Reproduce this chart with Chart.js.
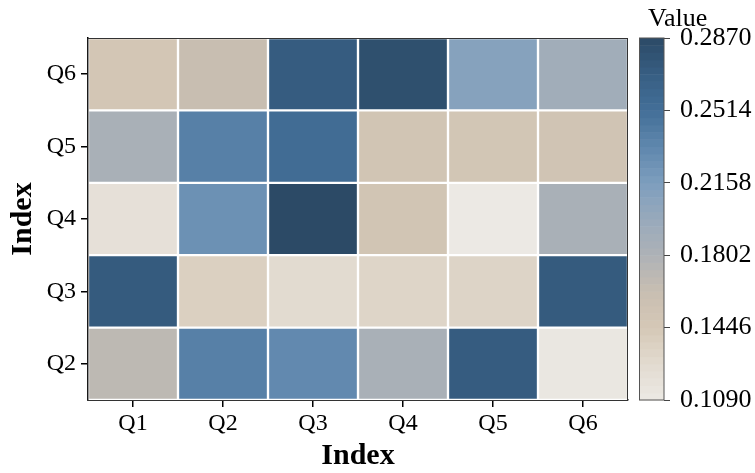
<!DOCTYPE html>
<html>
<head>
<meta charset="utf-8">
<script src="https://cdn.jsdelivr.net/npm/chart.js@4"></script>
<style>
html,body{margin:0;padding:0;background:#fff;}
#wrap{width:755px;height:473px;}
</style>
</head>
<body>
<div id="wrap"><canvas id="c" width="755" height="473"></canvas></div>
<script>
const xLabels = ['Q1','Q2','Q3','Q4','Q5','Q6'];
const yLabels = ['Q2','Q3','Q4','Q5','Q6'];
const rowQ2 = [0.170, 0.239, 0.232, 0.184, 0.271, 0.112];
const rowQ3 = [0.272, 0.137, 0.127, 0.132, 0.133, 0.272];
const rowQ4 = [0.120, 0.226, 0.287, 0.150, 0.109, 0.184];
const rowQ5 = [0.184, 0.239, 0.255, 0.150, 0.149, 0.151];
const rowQ6 = [0.148, 0.162, 0.271, 0.282, 0.210, 0.191];
const rowValues = [rowQ2, rowQ3, rowQ4, rowQ5, rowQ6];
const cbMin = 0.1090;
const cbMax = 0.2870;
const cbTicks = [0.1090, 0.1446, 0.1802, 0.2158, 0.2514, 0.2870];

const cmapStops = [
  [0.0, '#ece9e4'],
  [0.1, '#e2dbd0'],
  [0.2, '#d5c8b6'],
  [0.3, '#c8beb1'],
  [0.4, '#aeb2b6'],
  [0.5, '#98a9bb'],
  [0.6, '#7d9ebe'],
  [0.7, '#5f87ad'],
  [0.8, '#436f98'],
  [0.9, '#375e83'],
  [1.0, '#2c4a66']
];
function hex2rgb(h){return [parseInt(h.substr(1,2),16),parseInt(h.substr(3,2),16),parseInt(h.substr(5,2),16)];}
function cmap(v){
  let t = (v - cbMin) / (cbMax - cbMin);
  t = Math.max(0, Math.min(1, t));
  for (let i = 0; i < cmapStops.length - 1; i++) {
    const [t0, c0] = cmapStops[i], [t1, c1] = cmapStops[i+1];
    if (t <= t1) {
      const f = (t - t0) / (t1 - t0);
      const a = hex2rgb(c0), b = hex2rgb(c1);
      return 'rgb(' + a.map((x, k) => Math.round(x + (b[k] - x) * f)).join(',') + ')';
    }
  }
  return cmapStops[cmapStops.length-1][1];
}

const FONT = "'Liberation Serif', 'Times New Roman', serif";

const datasets = yLabels.map((lab, r) => ({
  label: lab,
  data: xLabels.map(() => 1),
  backgroundColor: rowValues[r].map(v => cmap(v)),
  borderColor: '#ffffff',
  borderWidth: 1.5,
  borderSkipped: false,
  categoryPercentage: 1.0,
  barPercentage: 1.0,
  stack: 's'
}));

const colorbarPlugin = {
  id: 'colorbar',
  afterDraw(chart) {
    const ctx = chart.ctx;
    const sp = chart.scales.spacer, cb = chart.scales.cb;
    const x1 = sp.right, x0 = x1 - 25;
    const n = 50;
    ctx.save();
    for (let i = 0; i < n; i++) {
      const va = cbMin + (cbMax - cbMin) * i / n;
      const vb = cbMin + (cbMax - cbMin) * (i + 1) / n;
      const ya = cb.getPixelForValue(va), yb = cb.getPixelForValue(vb);
      ctx.fillStyle = cmap((va + vb) / 2);
      ctx.fillRect(x0, yb, x1 - x0, ya - yb + 0.5);
    }
    const yt = cb.getPixelForValue(cbMax), yb = cb.getPixelForValue(cbMin);
    ctx.strokeStyle = '#555';
    ctx.lineWidth = 1;
    ctx.strokeRect(x0 + 0.5, yt, x1 - x0 - 0.5, yb - yt);
    ctx.fillStyle = '#000';
    ctx.font = '26px ' + FONT;
    ctx.textAlign = 'left';
    ctx.textBaseline = 'alphabetic';
    ctx.fillText('Value', x0 + 9, yt - 12);
    // plot frame
    const a = chart.chartArea;
    ctx.strokeStyle = '#333';
    ctx.lineWidth = 1;
    ctx.strokeRect(a.left, a.top + 0.5, a.right - a.left - 0.5, a.bottom - a.top);
    ctx.restore();
  }
};

new Chart(document.getElementById('c'), {
  type: 'bar',
  data: { labels: xLabels, datasets },
  options: {
    responsive: false,
    animation: false,
    layout: { padding: { top: 38, right: 0, bottom: 0, left: 0 } },
    plugins: { legend: { display: false }, tooltip: { enabled: false } },
    scales: {
      x: {
        type: 'category',
        stacked: true,
        offset: true,
        grid: { display: true, drawOnChartArea: false, drawTicks: true, tickLength: 7, color: '#000', lineWidth: 1.5, offset: false },
        border: { display: true, color: '#000', width: 1.5 },
        ticks: { color: '#000', font: { family: FONT, size: 24 }, padding: 2, maxRotation: 0 },
        title: { display: true, text: 'Index', color: '#000', font: { family: FONT, size: 30, weight: 'bold', lineHeight: 1.1 }, padding: { top: 0, bottom: 0 } },
        afterFit(s) { s.height = 73; }
      },
      y: {
        type: 'linear',
        stacked: true,
        min: 0,
        max: yLabels.length,
        grid: { display: true, drawOnChartArea: false, drawTicks: true, tickLength: 7, color: '#000', lineWidth: 1.5 },
        border: { display: true, color: '#000', width: 1.5 },
        afterBuildTicks(s) { s.ticks = yLabels.map((_, i) => ({ value: i + 0.5 })); },
        ticks: { color: '#000', font: { family: FONT, size: 24 }, padding: 5, callback: v => yLabels[Math.floor(v)] },
        title: { display: true, text: 'Index', color: '#000', font: { family: FONT, size: 30, weight: 'bold', lineHeight: 1.1 }, padding: { top: 7, bottom: 0 } },
        afterFit(s) { s.width = 88; }
      },
      spacer: {
        type: 'linear',
        position: 'right',
        weight: 0,
        display: true,
        grid: { display: false },
        border: { display: false },
        ticks: { display: false },
        afterFit(s) { s.width = 36; }
      },
      cb: {
        type: 'linear',
        position: 'right',
        weight: 1,
        min: cbMin,
        max: cbMax,
        grid: { display: true, drawOnChartArea: false, drawTicks: true, tickLength: 6, color: '#444', lineWidth: 1 },
        border: { display: false },
        afterBuildTicks(s) { s.ticks = cbTicks.map(v => ({ value: v })); },
        ticks: { color: '#000', font: { family: FONT, size: 26 }, padding: 10, callback: v => Number(v).toFixed(4) },
        afterFit(s) { s.width = 91; }
      }
    }
  },
  plugins: [colorbarPlugin]
});
</script>
</body>
</html>
